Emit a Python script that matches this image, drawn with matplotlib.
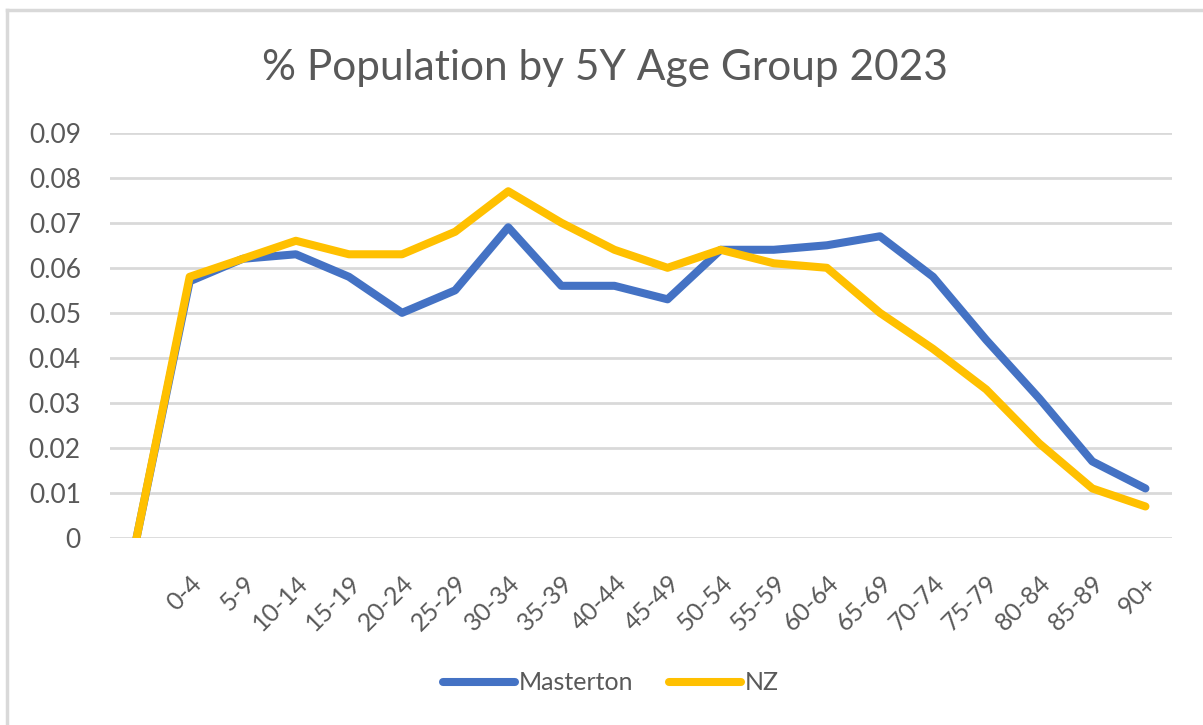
import numpy as np
import matplotlib.pyplot as plt
from matplotlib.lines import Line2D

# data
ages = ["", "0-4", "5-9", "10-14", "15-19", "20-24", "25-29", "30-34", "35-39",
        "40-44", "45-49", "50-54", "55-59", "60-64", "65-69", "70-74", "75-79",
        "80-84", "85-89", "90+"]
masterton = [0, 0.057, 0.062, 0.063, 0.058, 0.050, 0.055, 0.069, 0.056, 0.056,
             0.053, 0.064, 0.064, 0.065, 0.067, 0.058, 0.044, 0.031, 0.017, 0.011]
nz = [0, 0.058, 0.062, 0.066, 0.063, 0.063, 0.068, 0.077, 0.070, 0.064,
      0.060, 0.064, 0.061, 0.060, 0.050, 0.042, 0.033, 0.021, 0.011, 0.007]
yticks = [0, 0.01, 0.02, 0.03, 0.04, 0.05, 0.06, 0.07, 0.08, 0.09]
ylabels = ["0", "0.01", "0.02", "0.03", "0.04", "0.05", "0.06", "0.07", "0.08", "0.09"]

plt.rcParams['font.family'] = ['Lato', 'DejaVu Sans']
txt = '#595959'

W, H = 1203, 725
fig = plt.figure(figsize=(W/100, H/100), dpi=100)
ax = fig.add_axes([110/W, (H-538)/H, (1172-110)/W, (538-132.7)/H])

x = np.arange(len(ages))
ax.plot(x, masterton, color='#4472C4', lw=5.8, solid_capstyle='round',
        solid_joinstyle='round', label='Masterton', zorder=3)
ax.plot(x, nz, color='#FFC000', lw=5.8, solid_capstyle='round',
        solid_joinstyle='round', label='NZ', zorder=4)

ax.set_xlim(-0.5, len(ages)-0.5)
ax.set_ylim(0, 0.09)
ax.set_yticks(yticks)
ax.set_yticklabels(ylabels, fontsize=19)
ax.set_xticks(x)
ax.set_xticklabels(ages, rotation=45, ha='right', va='top', rotation_mode='anchor',
                   fontsize=18)
ax.tick_params(axis='both', length=0, colors=txt)
ax.tick_params(axis='y', pad=21)
ax.tick_params(axis='x', pad=24)
ax.grid(axis='y', color='#D9D9D9', lw=2)
ax.set_axisbelow(True)
for s in ax.spines.values():
    s.set_visible(False)

fig.text(605/W, 1-68/H, "% Population by 5Y Age Group 2023", ha='center',
         va='center', fontsize=30.5, color=txt)

leg = fig.legend(loc='center', bbox_to_anchor=(611/W, 1-683/H), ncol=2,
                 frameon=False, fontsize=18, handlelength=2.9, handletextpad=0.15,
                 columnspacing=1.4, labelcolor=txt)

# chart border (top and left only visible)
fig.add_artist(Line2D([6.5/W, 6.5/W], [0, 1-9.5/H], color='#D9D9D9', lw=2.5))
fig.add_artist(Line2D([6.5/W, 1], [1-9.5/H, 1-9.5/H], color='#D9D9D9', lw=2.5))

fig.savefig('out.png', dpi=100)
